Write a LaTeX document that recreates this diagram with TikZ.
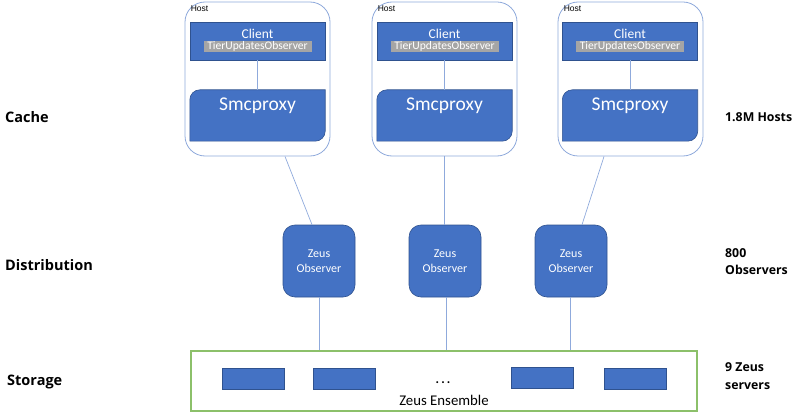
\documentclass[tikz,border=0pt]{standalone}
\usepackage{fontspec}
\setmainfont{Carlito}
\newfontfamily\lblfont{Open Sans}
\newfontfamily\hostfont{Liberation Sans}
\definecolor{boxblue}{HTML}{4472C4}
\definecolor{boxedge}{HTML}{2F528F}
\definecolor{hostedge}{HTML}{8EA9DB}
\definecolor{linkcol}{HTML}{8FAADC}
\definecolor{tagray}{HTML}{A5A5A5}
\definecolor{storegreen}{HTML}{8CC06A}
\begin{document}
\begin{tikzpicture}[x=1pt,y=1pt,
  hostbox/.style={draw=hostedge,line width=0.8pt,rounded corners=20pt,minimum width=145pt,minimum height=154pt,inner sep=0pt},
  clientbox/.style={fill=boxblue,draw=boxedge,line width=0.6pt,minimum width=135pt,minimum height=38pt,inner sep=0pt},
  proxyarea/.style={minimum width=135pt,minimum height=51pt,inner sep=0pt},
  proxyfill/.style={fill=boxblue,draw=boxedge,line width=0.6pt},
  obsbox/.style={fill=boxblue,draw=boxedge,line width=0.6pt,rounded corners=12pt,minimum width=72pt,minimum height=72pt,inner sep=0pt,text=white,align=center,font=\fontsize{12}{15}\selectfont},
  srvbox/.style={fill=boxblue,draw=boxedge,line width=0.6pt,minimum width=62pt,minimum height=21pt,inner sep=0pt},
  tagbox/.style={fill=tagray,text=white,minimum width=108pt,minimum height=11pt,inner sep=0pt,font=\fontsize{11.6}{12}\selectfont},
  link/.style={draw=linkcol,line width=0.7pt},
  leftlbl/.style={anchor=west,font=\lblfont\bfseries\fontsize{14.5}{17}\selectfont,inner sep=0pt},
  rightlbl/.style={anchor=west,font=\lblfont\bfseries\fontsize{12.3}{17.5}\selectfont,inner sep=0pt,align=left},
  hostlbl/.style={anchor=north west,font=\hostfont\fontsize{8.5}{9}\selectfont,inner sep=0pt}
]
\useasboundingbox (0,0) rectangle (800,413);
% hosts
\foreach \n/\hx/\cx in {1/257.5/257.5, 2/444.5/444.5, 3/630.5/630}{
  \node[hostbox] (h\n) at (\hx,334) {};
  \node[hostlbl] (hl\n) at ([xshift=6pt,yshift=-4pt]h\n.north west) {Host};
  \node[clientbox] (c\n) at (\cx,372) {};
  \node[text=white,font=\fontsize{13.5}{14}\selectfont,inner sep=0pt] (ct\n) at ([yshift=-12pt]c\n.north) {Client};
  \node[tagbox] (tg\n) at ([yshift=-24.5pt]c\n.north) {TierUpdatesObserver};
  \node[proxyarea] (p\n) at (\cx,297.5) {};
  \fill[proxyfill] ([yshift=-10pt]p\n.north west) arc[start angle=180,end angle=90,radius=10pt]
     -- (p\n.north east) -- ([yshift=10pt]p\n.south east) arc[start angle=0,end angle=-90,radius=10pt]
     -- (p\n.south west) -- cycle;
  \node[text=white,font=\fontsize{19.5}{20}\selectfont,inner sep=0pt] (pt\n) at ([yshift=-16pt]p\n.north) {Smcproxy};
  \draw[link] (c\n.south) -- (p\n.north);
}
% observers
\node[obsbox] (o1) at (319,152) {Zeus\\Observer};
\node[obsbox] (o2) at (445,152) {Zeus\\Observer};
\node[obsbox] (o3) at (571,152) {Zeus\\Observer};
% host to observer
\coordinate (h1b) at (285,256.5);
\coordinate (h2b) at (444,256.5);
\coordinate (h3b) at (604,256.5);
\draw[link] (h1b) -- ([xshift=-7pt]o1.north);
\draw[link] (h2b) -- ([xshift=-1pt]o2.north);
\draw[link] (h3b) -- ([xshift=11pt]o3.north);
% storage
\node[draw=storegreen,line width=1.1pt,minimum width=506pt,minimum height=60pt,inner sep=0pt] (st) at (444,32) {};
\node[srvbox] (s1) at (253,34.5) {};
\node[srvbox] (s2) at (344.5,34.5) {};
\node[srvbox] (s3) at (542,35.5) {};
\node[srvbox] (s4) at (635,34.5) {};
\node[font=\bfseries\fontsize{13}{14}\selectfont,inner sep=0pt] (dots) at (443,30) {.\,.\,.};
\node[font=\fontsize{14.8}{15}\selectfont,inner sep=0pt] (ens) at (444,13) {Zeus Ensemble};
\draw[link] (o1.south) -- (o1.south |- st.north);
\draw[link] ([xshift=1pt]o2.south) -- ([xshift=1pt]o2.south |- st.north);
\draw[link] ([xshift=-1pt]o3.south) -- ([xshift=-1pt]o3.south |- st.north);
% side labels
\node[leftlbl] (lc) at (5,296) {Cache};
\node[leftlbl] (ld) at (5,148) {Distribution};
\node[leftlbl] (ls) at (7,31) {Storage};
\node[rightlbl] (rc) at (725,296) {1.8M Hosts};
\node[rightlbl] (rd) at (725,151.5) {800\\Observers};
\node[rightlbl] (rs) at (725,37) {9 Zeus\\servers};
\end{tikzpicture}
\end{document}
